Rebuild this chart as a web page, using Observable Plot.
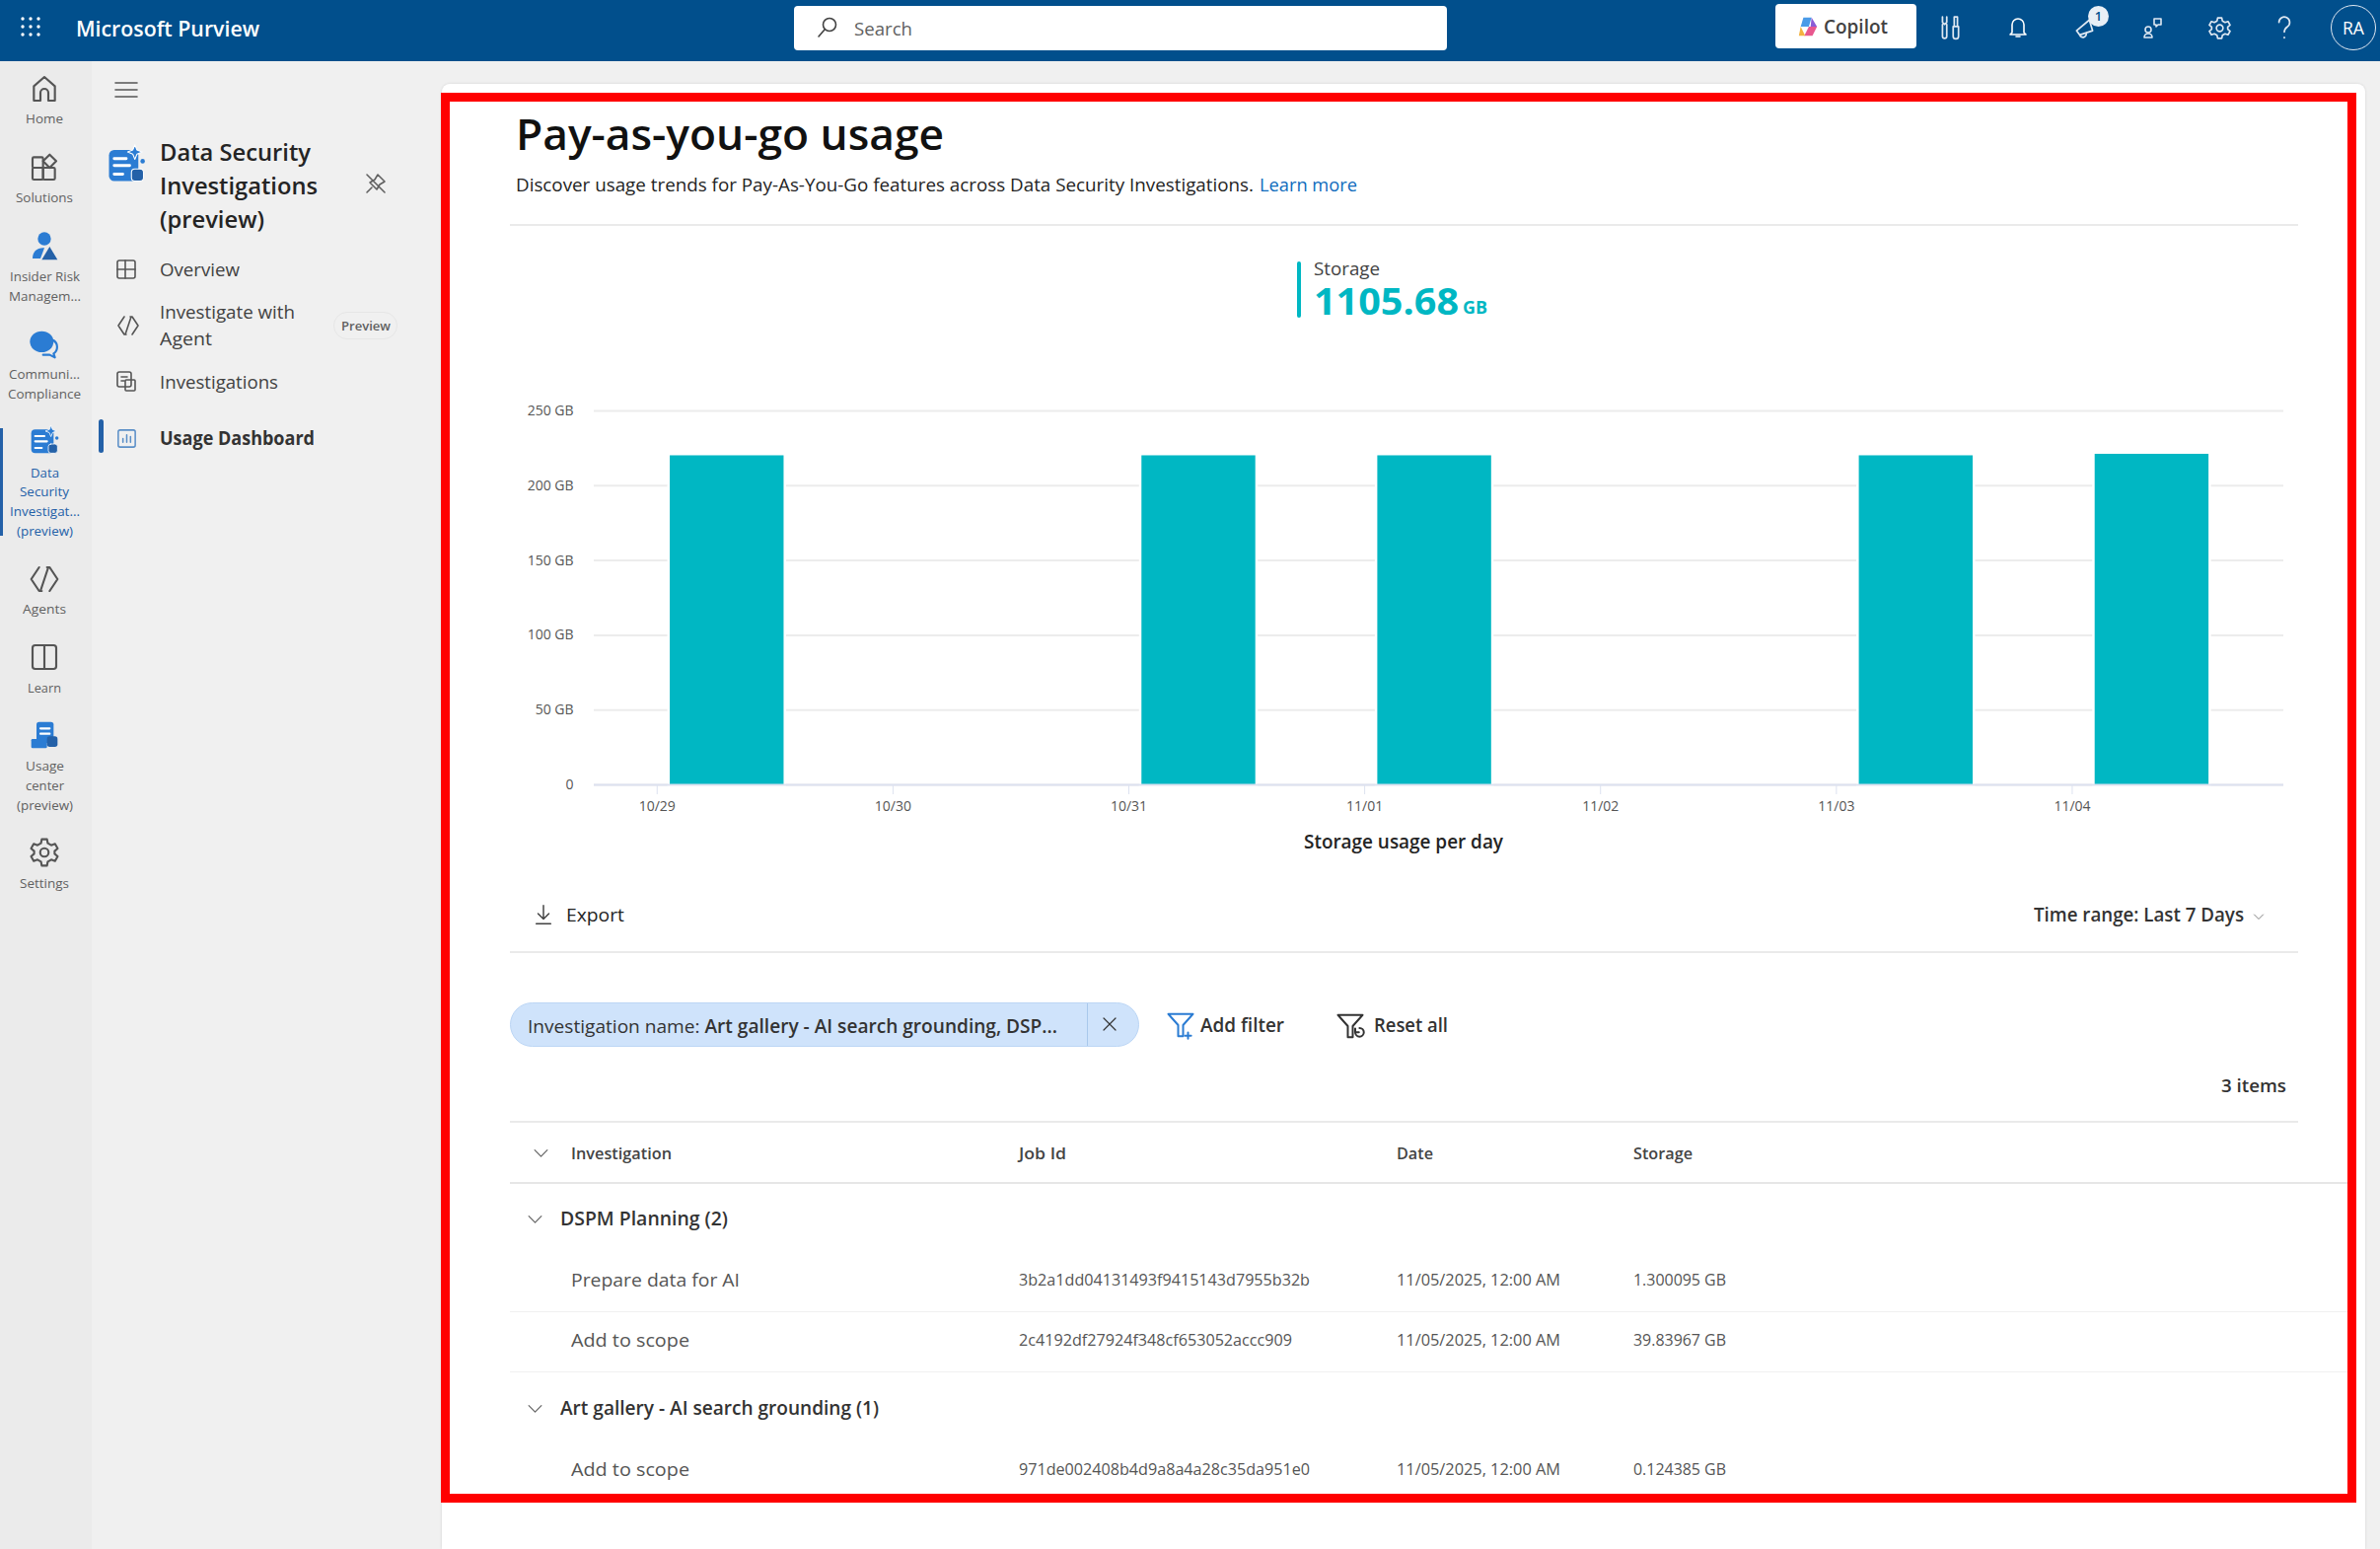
<!DOCTYPE html>
<html>
<head>
<meta charset="utf-8">
<script src="https://cdn.jsdelivr.net/npm/d3@7"></script>
<script src="https://cdn.jsdelivr.net/npm/@observablehq/plot@0.6"></script>
<style>
html,body{margin:0;padding:0;background:#f0f0f0;}
#page{position:relative;width:2413px;height:1570px;overflow:hidden;font-family:"Open Sans",sans-serif;background:#f0f0f0;}
.box{position:absolute;box-sizing:border-box;}
.t{position:absolute;white-space:nowrap;line-height:1;transform-origin:left center;}
.i{position:absolute;overflow:visible;fill:none;}
</style>
</head>
<body>
<div id="page"></div>
<script>
// ---- chart data ----
const tickDates = ["2025-10-29","2025-10-30","2025-10-31","2025-11-01","2025-11-02","2025-11-03","2025-11-04"];
const barStarts = ["2025-10-29T01:20Z","2025-10-31T01:20Z","2025-11-01T01:20Z","2025-11-03T02:20Z","2025-11-04T02:20Z"];
const barEnds   = ["2025-10-29T12:55Z","2025-10-31T12:55Z","2025-11-01T12:55Z","2025-11-03T13:55Z","2025-11-04T13:55Z"];
const barValues = [220, 220, 220, 220, 221];
const yTicks = [0, 50, 100, 150, 200, 250];
const xDomain = ["2025-10-28T17:36Z", "2025-11-04T21:32Z"];
const totalStorage = "1105.68";

// ---- table data ----
const investigations = ["Prepare data for AI", "Add to scope", "Add to scope"];
const jobIds = ["3b2a1dd04131493f9415143d7955b32b", "2c4192df27924f348cf653052accc909", "971de002408b4d9a8a4a28c35da951e0"];
const jobDates = ["11/05/2025, 12:00 AM", "11/05/2025, 12:00 AM", "11/05/2025, 12:00 AM"];
const jobStorage = ["1.300095 GB", "39.83967 GB", "0.124385 GB"];

const page = document.getElementById("page");
function box(x, y, w, h, css) {
  const d = document.createElement("div"); d.className = "box";
  d.style.cssText = `left:${x}px;top:${y}px;width:${w}px;height:${h}px;${css||""}`;
  page.appendChild(d); return d;
}
// text: left x, vertical centre y, font size, weight, colour, target width, anchor
function T(text, x, y, size, o) {
  o = o || {};
  const d = document.createElement("div"); d.className = "t";
  if (o.html) d.innerHTML = text; else d.textContent = text;
  d.style.fontSize = size + "px";
  d.style.fontWeight = o.w || 400;
  d.style.color = o.c || "#242424";
  d.style.left = x + "px";
  page.appendChild(d);
  const r = d.getBoundingClientRect();
  d.style.top = (y - r.height / 2) + "px";
  const target = o.fit || r.width;
  const sx = target / r.width;
  if (o.fit) d.style.transform = `scaleX(${sx})`;
  if (o.a === "middle") d.style.left = (x - target / 2) + "px";
  if (o.a === "end") d.style.left = (x - target) + "px";
  return d;
}
function I(inner, cx, cy, size, stroke) {
  const ns = "http://www.w3.org/2000/svg";
  const s = document.createElementNS(ns, "svg"); s.setAttribute("class", "i");
  s.setAttribute("viewBox", "0 0 24 24");
  s.setAttribute("width", size); s.setAttribute("height", size);
  s.style.left = (cx - size / 2) + "px"; s.style.top = (cy - size / 2) + "px";
  s.setAttribute("stroke", stroke || "#616161"); s.setAttribute("stroke-width", "1.6");
  s.setAttribute("stroke-linecap", "round"); s.setAttribute("stroke-linejoin", "round");
  s.innerHTML = inner; page.appendChild(s); return s;
}
const ic = {
  home:'<path d="M4 21V10l8-7 8 7v11h-5v-6a3 3 0 0 0-6 0v6z"/>',
  sol:'<rect x="3" y="4" width="8" height="8" rx="1"/><rect x="3" y="12" width="8" height="9" rx="1"/><rect x="11" y="12" width="9" height="9" rx="1"/><path d="M16 2l5 5-5 5-5-5z"/>',
  agent:'<path d="M8 3L2 12l6 9h2M16 3h-2M16 3l6 9-6 9M15 3L9 21"/>',
  learn:'<rect x="3" y="3" width="18" height="18" rx="2"/><path d="M12 3v18"/>',
  gear:'<circle cx="12" cy="12" r="3.2"/><path d="M10 2h4l.6 3 2.6 1.5 2.9-1 2 3.5-2.3 2v2l2.3 2-2 3.5-2.9-1L14.6 19l-.6 3h-4l-.6-3-2.6-1.5-2.9 1-2-3.5 2.3-2v-2l-2.3-2 2-3.5 2.9 1L9.4 5z"/>',
  overview:'<rect x="3" y="3" width="18" height="18" rx="2"/><path d="M3 12h18M11 3v18"/>',
  invest:'<rect x="3" y="2" width="14" height="15" rx="2"/><path d="M7 7h6M7 11h3"/><rect x="11" y="10" width="10" height="11" rx="1"/>',
  usage:'<rect x="3" y="3" width="18" height="18" rx="2"/><path d="M8 16v-4M12 16V8M16 16v-6"/>',
  pin:'<path d="M3 3l18 18M14 3l7 7-5 3-3 5-7-7 5-3zM8 16l-5 5"/>',
  search:'<circle cx="14" cy="9" r="6.5"/><path d="M9 14l-6 7"/>',
  bell:'<path d="M6 17V9a6 6 0 0 1 12 0v8l2 2H4zM10 21h4"/>',
  wrench:'<path d="M5 2v5l2 2 2-2V2M5 9v11a2 2 0 0 0 4 0V9M16 2h3v9h-3zM15 11h5v9a2.5 2.5 0 0 1-5 0z"/>',
  mega:'<path d="M4 13l12-10 3 10-12 4zM7 17a3 3 0 0 0 6-2"/>',
  people:'<circle cx="8" cy="14" r="3"/><path d="M4 22a4 4 0 0 1 8 0zM14 3h7v6h-3l-2 2V9h-2z"/>',
  help:'<path d="M7 7a5 5 0 1 1 8 4c-2 1.400-3 2.500-3 5M12 21v.5"/>',
  down:'<path d="M12 2v15M6 11l6 6 6-6M4 22h16"/>',
  close:'<path d="M4 4l16 16M20 4L4 20"/>',
  chev:'<path d="M3 8l9 9 9-9"/>',
  funnel:'<path d="M2 3h20l-8 9v9h-4v-9z"/><path d="M18 18v5M15.500 20.500h5"/>',
  reset:'<path d="M2 3h20l-8 9v9h-4v-9z"/><path d="M16 17a3.500 3.500 0 1 0 3.500-3.500M16 14v3h3"/>'
};

// ---- shell ----
box(0, 0, 93, 1570, "background:#ebebeb");
box(0, 0, 2413, 62, "background:#014f8c");
box(448, 85, 1950, 1485, "background:#fff;border-radius:8px 8px 0 0;box-shadow:0 0 3px rgba(0,0,0,.12)");

// header
const dots = d3.range(9).map(i => `<circle cx="${4 + (i % 3) * 8}" cy="${4 + Math.floor(i / 3) * 8}" r="1.700" fill="#fff" stroke="none"/>`).join("");
I(dots, 31, 27, 24, "#fff");
T("Microsoft Purview", 77, 29, 21, {w:600, c:"#fff", fit:186});
box(805, 6, 662, 45, "background:#fff;border-radius:4px");
I(ic.search, 839, 28, 24, "#424242");
T("Search", 866, 29, 19, {c:"#616161", fit:59});
box(1800, 4, 143, 45, "background:#fff;border-radius:4px");
I('<path d="M7 2h9l-3 10H4z" fill="#4a9be8" stroke="none"/><path d="M13 12h9l-5 10H8z" fill="#e8578e" stroke="none"/><path d="M16 2l6 10h-7z" fill="#8a5cd6" stroke="none"/><path d="M4 12l5 10H2z" fill="#f3b23f" stroke="none"/>', 1833, 27, 22);
T("Copilot", 1849, 27, 19, {w:600, c:"#424242", fit:65});
I(ic.wrench, 1977, 28, 26, "#dfe8f2");
I(ic.bell, 2046, 28, 24, "#fff");
I(ic.mega, 2114, 30, 26, "#dfe8f2");
box(2117, 6, 21, 21, "background:#e9eff6;border-radius:50%");
T("1", 2127.500, 16, 13, {c:"#014f8c", w:600, a:"middle"});
I(ic.people, 2182, 28, 24, "#dfe8f2");
I(ic.gear, 2250, 28, 25, "#dfe8f2");
I(ic.help, 2316, 28, 26, "#dfe8f2");
box(2363, 5, 46, 46, "border:1.500px solid #dfe8f2;border-radius:50%");
T("RA", 2386, 28, 18, {c:"#fff", a:"middle", fit:22});

// left rail
const g = "#616161";
I(ic.home, 45, 90, 32, "#555");
T("Home", 45, 120, 13, {c:g, a:"middle", fit:38});
I(ic.sol, 45, 170, 32, "#555");
T("Solutions", 45, 200, 13, {c:g, a:"middle", fit:58});
I('<circle cx="12" cy="6" r="5" fill="#2b7cd3" stroke="none"/><path d="M3 21c0-6 4-8 9-8l-3 8z" fill="#2b7cd3" stroke="none"/><path d="M16 12l6 10H10z" fill="#2461a8" stroke="none"/>', 45, 250, 32);
T("Insider Risk", 45, 280, 13, {c:g, a:"middle", fit:71});
T("Managem...", 45, 300, 13, {c:g, a:"middle", fit:73});
I('<ellipse cx="10" cy="10" rx="9" ry="8" fill="#2b7cd3" stroke="none"/><path d="M19 9a6 6 0 0 1 0 10l1 3-4-2h-5" stroke="#2b7cd3"/>', 45, 349, 32);
T("Communi...", 45, 379, 13, {c:g, a:"middle", fit:72});
T("Compliance", 45, 399, 13, {c:g, a:"middle", fit:74});
box(0, 434, 3, 109, "background:#2461a8");
function dsi(cx, cy, s) {
  I('<rect x="2" y="4" width="17" height="18" rx="3" fill="#2b7cd3" stroke="none"/><path d="M5 9h7M5 13h9M5 18h5" stroke="#fff"/><rect x="15" y="15" width="7" height="7" rx="2" fill="#2461a8" stroke="#fff" stroke-width=".6"/><path d="M17 1l1.200 3 3 1.200-3 1.200-1.200 3-1.200-3-3-1.200 3-1.200z" fill="#2b7cd3" stroke="#fff" stroke-width=".6"/><circle cx="21.500" cy="10.500" r="1.300" fill="#2b7cd3" stroke="none"/>', cx, cy, s);
}
dsi(45, 446, 32);
["Data","Security","Investigat...","(preview)"].forEach((s, i) => T(s, 45, [479,498,518,538][i], 13, {c:"#2461a8", a:"middle", fit:[29,50,71,57][i]}));
I(ic.agent, 45, 587, 32, "#555");
T("Agents", 45, 617, 13, {c:g, a:"middle", fit:44});
I(ic.learn, 45, 666, 32, "#555");
T("Learn", 45, 697, 13, {c:g, a:"middle", fit:34});
I('<rect x="6" y="2" width="13" height="16" rx="2" fill="#2b7cd3" stroke="none"/><rect x="2" y="15" width="12" height="7" rx="1" fill="#2b7cd3" stroke="none"/><rect x="14" y="13" width="8" height="8" rx="2" fill="#2461a8" stroke="none"/><path d="M9 7h7M9 11h7" stroke="#fff"/>', 45, 745, 32);
T("Usage", 45, 776, 13, {c:g, a:"middle", fit:39});
T("center", 45, 796, 13, {c:g, a:"middle", fit:39});
T("(preview)", 45, 816, 13, {c:g, a:"middle", fit:57});
I(ic.gear, 45, 864, 32, "#555");
T("Settings", 45, 895, 13, {c:g, a:"middle", fit:50});

// second column
I('<path d="M1 5h22M1 12h22M1 19h22"/>', 127.500, 91, 24, "#555");
dsi(128, 166, 42);
["Data Security","Investigations","(preview)"].forEach((s, i) => T(s, 162, [154,188,222][i], 24, {w:600, fit:[153,160,106][i]}));
I(ic.pin, 381, 186, 24, "#616161");
I(ic.overview, 128, 273, 24, "#555");
T("Overview", 162, 273, 19, {c:"#424242", fit:81});
I(ic.agent, 130, 330, 24, "#555");
T("Investigate with", 162, 316, 19, {c:"#424242", fit:137});
T("Agent", 162, 343, 19, {c:"#424242", fit:53});
box(338, 316, 65, 28, "border:1px solid #e6e6e6;border-radius:14px");
T("Preview", 370.500, 330, 13, {c:"#616161", a:"middle", fit:50, w:600});
I(ic.invest, 128, 387, 24, "#555");
T("Investigations", 162, 387, 19, {c:"#424242", fit:120});
box(100, 425, 5, 34, "background:#2461a8;border-radius:3px");
I(ic.usage, 128, 444, 23, "#5b8fc7");
T("Usage Dashboard", 162, 444, 19, {w:700, c:"#333", fit:157});

// ---- content ----
T("Pay-as-you-go usage", 523, 135, 44, {w:600, c:"#111", fit:434});
T("Discover usage trends for Pay-As-You-Go features across Data Security Investigations.", 523, 187, 19, {fit:748});
T("Learn more", 1277, 187, 19, {c:"#0f6cbd", fit:99});
box(517, 227, 1813, 2, "background:#eaeaea");

box(1315, 265, 4, 57, "background:#00b7c3;border-radius:2px");
T("Storage", 1332, 272, 18, {c:"#424242", fit:67});
T(totalStorage, 1332, 304, 38, {w:700, c:"#00b7c3", fit:147});
T("GB", 1483, 311, 17, {w:700, c:"#00b7c3", fit:25});

// ---- Plot chart ----
const bars = barValues.map((v, i) => ({start: new Date(barStarts[i]), end: new Date(barEnds[i]), value: v}));
const chart = Plot.plot({
  width: 1900, height: 480,
  marginLeft: 152, marginRight: 35, marginTop: 26, marginBottom: 75,
  style: {fontFamily: '"Open Sans",sans-serif', background: "transparent", overflow: "visible"},
  x: {type: "utc", domain: xDomain.map(d => new Date(d))},
  y: {domain: [0, 250]},
  marks: [
    Plot.gridY(yTicks, {stroke: "#ececec", strokeOpacity: 1, strokeWidth: 2}),
    Plot.rectY(bars, {x1: "start", x2: "end", y1: 0, y2: "value", fill: "#fff", inset: -2.5}),
    Plot.rectY(bars, {x1: "start", x2: "end", y1: 0, y2: "value", fill: "#00b7c3"}),
    Plot.ruleY([0], {stroke: "#dde2f0", strokeWidth: 2}),
    Plot.axisY({ticks: yTicks, tickFormat: d => d ? d + " GB" : "0", tickSize: 0, tickPadding: 21, fontSize: 14, fill: "#555", label: null}),
    Plot.axisX({ticks: tickDates.map(d => new Date(d)), tickFormat: d3.utcFormat("%m/%d"), tickSize: 10, tickPadding: 7, fontSize: 14, stroke: "#dde2f0", fill: "#555", label: null})
  ]
});
chart.style.position = "absolute";
chart.style.left = "450px";
chart.style.top = "390px";
page.appendChild(chart);

T("Storage usage per day", 1322, 853, 19, {w:600, fit:202});

I(ic.down, 551, 927, 22, "#424242");
T("Export", 574, 927, 19, {w:400, fit:59});
T("Time range: Last 7 Days", 2062, 927, 19, {w:600, c:"#333", fit:213});
I(ic.chev, 2290, 929, 12, "#616161");
box(517, 964, 1813, 2, "background:#eaeaea");

box(517, 1016, 638, 45, "background:#cfe3fb;border:1.500px solid #bcd6f5;border-radius:23px");
box(1102, 1017, 1, 43, "background:#a9c8ec");
T('Investigation name: <b style="font-weight:600">Art gallery - AI search grounding, DSP...</b>', 535, 1040, 19, {html:true, c:"#333", fit:537});
I(ic.close, 1125, 1038, 18, "#333");
I(ic.funnel, 1197, 1039, 30, "#2b7cd3");
T("Add filter", 1217, 1039, 19, {w:600, c:"#333", fit:85});
I(ic.reset, 1369, 1040, 30, "#333");
T("Reset all", 1393, 1039, 19, {w:600, c:"#333", fit:75});
T("3 items", 2318, 1100, 18, {w:600, c:"#333", a:"end", fit:66});

box(517, 1136, 1813, 2, "background:#eaeaea");
I(ic.chev, 548, 1168, 17, "#616161");
T("Investigation", 579, 1168, 17, {w:600, c:"#444", fit:102});
T("Job Id", 1033, 1168, 17, {w:600, c:"#444", fit:48});
T("Date", 1416, 1168, 17, {w:600, c:"#444", fit:37});
T("Storage", 1656, 1168, 17, {w:600, c:"#444", fit:60});
box(517, 1198, 1863, 2, "background:#e6e6e6");

I(ic.chev, 542, 1235, 17, "#616161");
T("DSPM Planning (2)", 568, 1235, 19, {w:600, c:"#333", fit:170});
I(ic.chev, 542, 1427, 17, "#616161");
T("Art gallery - AI search grounding (1)", 568, 1427, 19, {w:600, c:"#333", fit:323});
box(517, 1329, 1863, 1, "background:#f0f0f0");
box(517, 1390, 1863, 1, "background:#f0f0f0");

const rowY = [1297, 1358, 1489];
const idFit = [295, 277, 295];
const nameFit = [171, 120, 120];
investigations.forEach((n, i) => {
  T(n, 579, rowY[i], 19, {c:"#555", fit:nameFit[i]});
  T(jobIds[i], 1033, rowY[i], 16, {c:"#555", fit:idFit[i]});
  T(jobDates[i], 1416, rowY[i], 16, {c:"#555", fit:166});
  T(jobStorage[i], 1656, rowY[i], 16, {c:"#555", fit:94});
});

// annotation frame
box(447, 94, 1942, 1429, "border:9px solid #ff0000;pointer-events:none");
</script>
</body>
</html>
